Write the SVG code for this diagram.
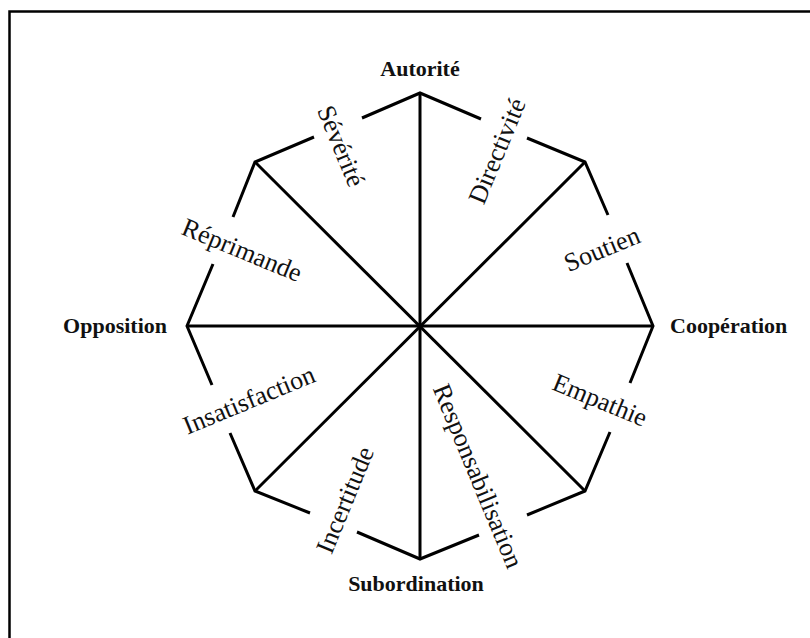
<svg xmlns="http://www.w3.org/2000/svg" width="810" height="638" viewBox="0 0 810 638">
<style>
.ln{stroke:#000;stroke-width:3;fill:none;stroke-linecap:butt;stroke-linejoin:miter}
.frame{stroke:#000;stroke-width:2.5;fill:none}
.lab{font-family:"Liberation Serif","Times New Roman",serif;font-size:26px;fill:#111;text-anchor:middle}
.pole{font-family:"Liberation Serif","Times New Roman",serif;font-size:22px;font-weight:bold;fill:#111}
</style>
<rect width="810" height="638" fill="#fff"/>
<path class="frame" d="M9.5 638 V11.5 H810"/>
<g id="connectors">
<line class="ln" x1="420" y1="93" x2="420" y2="559"/>
<line class="ln" x1="187" y1="326" x2="653" y2="326"/>
<line class="ln" x1="255" y1="162" x2="585" y2="491"/>
<line class="ln" x1="585" y1="162" x2="255" y2="491"/>
<path class="ln" d="M362 118 L420 93 L481 119"/>
<path class="ln" d="M527 138 L585 162 L608 215"/>
<path class="ln" d="M627 263 L653 326 L630 383"/>
<path class="ln" d="M610 432 L585 491 L527 515"/>
<path class="ln" d="M479 535 L420 559 L357 532"/>
<path class="ln" d="M310 513 L255 491 L230 433"/>
<path class="ln" d="M212 385 L187 326 L213 264"/>
<path class="ln" d="M233 217 L255 162 L314 137"/>
</g>
<g id="autorite"><text class="pole" x="420" y="76" text-anchor="middle">Autorité</text></g>
<g id="cooperation"><text class="pole" x="670" y="333">Coopération</text></g>
<g id="subordination"><text class="pole" x="416" y="591" text-anchor="middle">Subordination</text></g>
<g id="opposition"><text class="pole" x="167" y="333" text-anchor="end">Opposition</text></g>
<g id="severite"><text class="lab" transform="translate(341 146) rotate(67.5)" dy="0.33em">Sévérité</text></g>
<g id="directivite"><text class="lab" transform="translate(497 151) rotate(-67.5)" dy="0.33em">Directivité</text></g>
<g id="soutien"><text class="lab" transform="translate(602 249) rotate(-22.5)" dy="0.33em">Soutien</text></g>
<g id="empathie"><text class="lab" transform="translate(600 400) rotate(22.5)" dy="0.33em">Empathie</text></g>
<g id="responsabilisation"><text class="lab" transform="translate(478 476) rotate(67.5)" dy="0.33em">Responsabilisation</text></g>
<g id="incertitude"><text class="lab" transform="translate(345 500) rotate(-67.5)" dy="0.33em">Incertitude</text></g>
<g id="insatisfaction"><text class="lab" transform="translate(249 400) rotate(-22.5)" dy="0.33em">Insatisfaction</text></g>
<g id="reprimande"><text class="lab" transform="translate(242 250) rotate(22.5)" dy="0.33em">Réprimande</text></g>
</svg>
